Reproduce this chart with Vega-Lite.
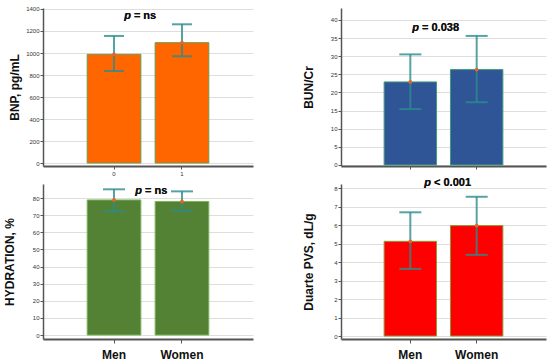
{
  "$schema": "https://vega.github.io/schema/vega-lite/v6.json",
  "background": "white",
  "padding": {"left": 3, "top": 5, "right": 2, "bottom": 2},
  "config": {
    "view": {"stroke": null},
    "font": "Liberation Sans",
    "axisY": {"grid": true, "gridColor": "#dedede", "gridWidth": 1, "domainColor": "#555", "domainWidth": 1.5, "tickColor": "#555", "tickSize": 3, "labelFontSize": 6, "labelPadding": 1, "labelColor": "#333", "labelOverlap": false, "labelFlush": false, "labelBound": false, "format": "d", "titleFontSize": 12, "titleFontWeight": "bold", "titleColor": "#111", "titlePadding": 0},
    "axisX": {"grid": false, "domainColor": "#555", "domainWidth": 2, "tickColor": "#555", "title": null, "labelAngle": 0, "labelOverlap": false}
  },
  "datasets": {
    "bnp": [
      {"sex": "Men", "mean": 988, "lo": 836, "hi": 1155},
      {"sex": "Women", "mean": 1094, "lo": 970, "hi": 1261}
    ],
    "bun": [
      {"sex": "Men", "mean": 22.9, "lo": 15.4, "hi": 30.5},
      {"sex": "Women", "mean": 26.3, "lo": 17.3, "hi": 35.6}
    ],
    "hyd": [
      {"sex": "Men", "mean": 78.9, "lo": 72.2, "hi": 85.1},
      {"sex": "Women", "mean": 78.0, "lo": 72.6, "hi": 83.9}
    ],
    "pvs": [
      {"sex": "Men", "mean": 5.12, "lo": 3.63, "hi": 6.69},
      {"sex": "Women", "mean": 5.97, "lo": 4.39, "hi": 7.53}
    ]
  },
  "columns": 2,
  "bounds": "flush",
  "align": "each",
  "spacing": {"row": 18, "column": 88},
  "concat": [
    {
      "width": 210, "height": 158,
      "data": {"name": "bnp"},
      "encoding": {
        "x": {"field": "sex", "type": "nominal", "sort": ["Men", "Women"], "scale": {"paddingInner": 0.21, "paddingOuter": 0.65, "align": 0.5},
          "axis": {"labelExpr": "datum.value == 'Men' ? '0' : '1'", "labelFontSize": 6, "labelColor": "#333", "tickSize": 3, "labelPadding": 1}}
      },
      "layer": [
        {"mark": {"type": "bar", "color": "#ff6600", "stroke": "#6f9a4a", "strokeWidth": 1},
          "encoding": {"y": {"field": "mean", "type": "quantitative", "scale": {"domain": [-27, 1409], "nice": false, "zero": false},
            "axis": {"values": [0, 200, 400, 600, 800, 1000, 1200, 1400], "title": "BNP, pg/mL", "minExtent": 22, "maxExtent": 22}},
            "y2": {"datum": 0}}},
        {"mark": {"type": "rule", "color": "#2a8c8c", "strokeWidth": 2, "opacity": 0.8}, "encoding": {"y": {"field": "lo", "type": "quantitative", "axis": {"values": [0, 200, 400, 600, 800, 1000, 1200, 1400], "title": "BNP, pg/mL", "minExtent": 22, "maxExtent": 22}}, "y2": {"field": "hi"}}},
        {"mark": {"type": "tick", "color": "#2a8c8c", "thickness": 2, "size": 20, "opacity": 0.8}, "encoding": {"y": {"field": "lo", "type": "quantitative", "axis": {"values": [0, 200, 400, 600, 800, 1000, 1200, 1400], "title": "BNP, pg/mL", "minExtent": 22, "maxExtent": 22}}}},
        {"mark": {"type": "tick", "color": "#2a8c8c", "thickness": 2, "size": 20, "opacity": 0.8}, "encoding": {"y": {"field": "hi", "type": "quantitative", "axis": {"values": [0, 200, 400, 600, 800, 1000, 1200, 1400], "title": "BNP, pg/mL", "minExtent": 22, "maxExtent": 22}}}},
        {"mark": {"type": "point", "filled": true, "color": "#e8642a", "size": 14, "opacity": 1}, "encoding": {"y": {"field": "mean", "type": "quantitative", "axis": {"values": [0, 200, 400, 600, 800, 1000, 1200, 1400], "title": "BNP, pg/mL", "minExtent": 22, "maxExtent": 22}}}},
        {"mark": {"type": "text", "text": "p", "fontStyle": "italic", "fontWeight": "bold", "fontSize": 11, "align": "right", "baseline": "middle", "color": "#111"},
          "encoding": {"x": {"datum": "Men", "type": "nominal", "bandPosition": 0.816}, "y": {"datum": 1336, "type": "quantitative", "axis": {"values": [0, 200, 400, 600, 800, 1000, 1200, 1400], "title": "BNP, pg/mL", "minExtent": 22, "maxExtent": 22}}}},
        {"mark": {"type": "text", "text": "= ns", "fontWeight": "bold", "fontSize": 11, "align": "left", "baseline": "middle", "color": "#111"},
          "encoding": {"x": {"datum": "Men", "type": "nominal", "bandPosition": 0.87}, "y": {"datum": 1336, "type": "quantitative", "axis": {"values": [0, 200, 400, 600, 800, 1000, 1200, 1400], "title": "BNP, pg/mL", "minExtent": 22, "maxExtent": 22}}}}
      ]
    },
    {
      "width": 205, "height": 158,
      "data": {"name": "bun"},
      "encoding": {
        "x": {"field": "sex", "type": "nominal", "sort": ["Men", "Women"], "scale": {"paddingInner": 0.21, "paddingOuter": 0.65, "align": 0.5},
          "axis": {"labels": false, "tickSize": 3}}
      },
      "layer": [
        {"mark": {"type": "bar", "color": "#2f5597", "stroke": "#3f9a7a", "strokeWidth": 1},
          "encoding": {"y": {"field": "mean", "type": "quantitative", "scale": {"domain": [-0.3, 43.3], "nice": false, "zero": false},
            "axis": {"values": [0, 5, 10, 15, 20, 25, 30, 35, 40], "title": "BUN/Cr", "minExtent": 26, "maxExtent": 26}},
            "y2": {"datum": 0}}},
        {"mark": {"type": "rule", "color": "#2a8c8c", "strokeWidth": 2, "opacity": 0.8}, "encoding": {"y": {"field": "lo", "type": "quantitative", "axis": {"values": [0, 5, 10, 15, 20, 25, 30, 35, 40], "title": "BUN/Cr", "minExtent": 26, "maxExtent": 26}}, "y2": {"field": "hi"}}},
        {"mark": {"type": "tick", "color": "#2a8c8c", "thickness": 2, "size": 22, "opacity": 0.8}, "encoding": {"y": {"field": "lo", "type": "quantitative", "axis": {"values": [0, 5, 10, 15, 20, 25, 30, 35, 40], "title": "BUN/Cr", "minExtent": 26, "maxExtent": 26}}}},
        {"mark": {"type": "tick", "color": "#2a8c8c", "thickness": 2, "size": 22, "opacity": 0.8}, "encoding": {"y": {"field": "hi", "type": "quantitative", "axis": {"values": [0, 5, 10, 15, 20, 25, 30, 35, 40], "title": "BUN/Cr", "minExtent": 26, "maxExtent": 26}}}},
        {"mark": {"type": "point", "filled": true, "color": "#e8642a", "size": 14, "opacity": 1}, "encoding": {"y": {"field": "mean", "type": "quantitative", "axis": {"values": [0, 5, 10, 15, 20, 25, 30, 35, 40], "title": "BUN/Cr", "minExtent": 26, "maxExtent": 26}}}},
        {"mark": {"type": "text", "text": "p", "fontStyle": "italic", "fontWeight": "bold", "fontSize": 11, "align": "right", "baseline": "middle", "color": "#111"},
          "encoding": {"x": {"datum": "Men", "type": "nominal", "bandPosition": 0.666}, "y": {"datum": 37.8, "type": "quantitative", "axis": {"values": [0, 5, 10, 15, 20, 25, 30, 35, 40], "title": "BUN/Cr", "minExtent": 26, "maxExtent": 26}}}},
        {"mark": {"type": "text", "text": "= 0.038", "fontWeight": "bold", "fontSize": 11, "align": "left", "baseline": "middle", "color": "#111"},
          "encoding": {"x": {"datum": "Men", "type": "nominal", "bandPosition": 0.723}, "y": {"datum": 37.8, "type": "quantitative", "axis": {"values": [0, 5, 10, 15, 20, 25, 30, 35, 40], "title": "BUN/Cr", "minExtent": 26, "maxExtent": 26}}}}
      ]
    },
    {
      "width": 210, "height": 155,
      "data": {"name": "hyd"},
      "encoding": {
        "x": {"field": "sex", "type": "nominal", "sort": ["Men", "Women"], "scale": {"paddingInner": 0.21, "paddingOuter": 0.65, "align": 0.5},
          "axis": {"labelFontSize": 12, "labelFontWeight": "bold", "labelColor": "#111", "tickSize": 4, "labelPadding": 6}}
      },
      "layer": [
        {"mark": {"type": "bar", "color": "#548235", "stroke": "#7ab55a", "strokeWidth": 1},
          "encoding": {"y": {"field": "mean", "type": "quantitative", "scale": {"domain": [-2.3, 88.2], "nice": false, "zero": false},
            "axis": {"values": [0, 10, 20, 30, 40, 50, 60, 70, 80], "title": "HYDRATION, %", "minExtent": 27, "maxExtent": 27}},
            "y2": {"datum": 0}}},
        {"mark": {"type": "rule", "color": "#2a8c8c", "strokeWidth": 2, "opacity": 0.8}, "encoding": {"y": {"field": "lo", "type": "quantitative", "axis": {"values": [0, 10, 20, 30, 40, 50, 60, 70, 80], "title": "HYDRATION, %", "minExtent": 27, "maxExtent": 27}}, "y2": {"field": "hi"}}},
        {"mark": {"type": "tick", "color": "#2a8c8c", "thickness": 2, "size": 22, "opacity": 0.8}, "encoding": {"y": {"field": "lo", "type": "quantitative", "axis": {"values": [0, 10, 20, 30, 40, 50, 60, 70, 80], "title": "HYDRATION, %", "minExtent": 27, "maxExtent": 27}}}},
        {"mark": {"type": "tick", "color": "#2a8c8c", "thickness": 2, "size": 22, "opacity": 0.8}, "encoding": {"y": {"field": "hi", "type": "quantitative", "axis": {"values": [0, 10, 20, 30, 40, 50, 60, 70, 80], "title": "HYDRATION, %", "minExtent": 27, "maxExtent": 27}}}},
        {"mark": {"type": "point", "filled": true, "color": "#e8642a", "size": 14, "opacity": 1}, "encoding": {"y": {"field": "mean", "type": "quantitative", "axis": {"values": [0, 10, 20, 30, 40, 50, 60, 70, 80], "title": "HYDRATION, %", "minExtent": 27, "maxExtent": 27}}}},
        {"mark": {"type": "text", "text": "p", "fontStyle": "italic", "fontWeight": "bold", "fontSize": 11, "align": "right", "baseline": "middle", "color": "#111"},
          "encoding": {"x": {"datum": "Men", "type": "nominal", "bandPosition": 1.02}, "y": {"datum": 84.1, "type": "quantitative", "axis": {"values": [0, 10, 20, 30, 40, 50, 60, 70, 80], "title": "HYDRATION, %", "minExtent": 27, "maxExtent": 27}}}},
        {"mark": {"type": "text", "text": "= ns", "fontWeight": "bold", "fontSize": 11, "align": "left", "baseline": "middle", "color": "#111"},
          "encoding": {"x": {"datum": "Men", "type": "nominal", "bandPosition": 1.076}, "y": {"datum": 84.1, "type": "quantitative", "axis": {"values": [0, 10, 20, 30, 40, 50, 60, 70, 80], "title": "HYDRATION, %", "minExtent": 27, "maxExtent": 27}}}}
      ]
    },
    {
      "width": 205, "height": 155,
      "data": {"name": "pvs"},
      "encoding": {
        "x": {"field": "sex", "type": "nominal", "sort": ["Men", "Women"], "scale": {"paddingInner": 0.21, "paddingOuter": 0.65, "align": 0.5},
          "axis": {"labelFontSize": 12, "labelFontWeight": "bold", "labelColor": "#111", "tickSize": 4, "labelPadding": 6}}
      },
      "layer": [
        {"mark": {"type": "bar", "color": "#ff0000", "stroke": "#8a9a3a", "strokeWidth": 1},
          "encoding": {"y": {"field": "mean", "type": "quantitative", "scale": {"domain": [-0.16, 8.22], "nice": false, "zero": false},
            "axis": {"values": [0, 1, 2, 3, 4, 5, 6, 7, 8], "title": "Duarte PVS, dL/g", "minExtent": 26, "maxExtent": 26}},
            "y2": {"datum": 0}}},
        {"mark": {"type": "rule", "color": "#2a8c8c", "strokeWidth": 2, "opacity": 0.8}, "encoding": {"y": {"field": "lo", "type": "quantitative", "axis": {"values": [0, 1, 2, 3, 4, 5, 6, 7, 8], "title": "Duarte PVS, dL/g", "minExtent": 26, "maxExtent": 26}}, "y2": {"field": "hi"}}},
        {"mark": {"type": "tick", "color": "#2a8c8c", "thickness": 2, "size": 22, "opacity": 0.8}, "encoding": {"y": {"field": "lo", "type": "quantitative", "axis": {"values": [0, 1, 2, 3, 4, 5, 6, 7, 8], "title": "Duarte PVS, dL/g", "minExtent": 26, "maxExtent": 26}}}},
        {"mark": {"type": "tick", "color": "#2a8c8c", "thickness": 2, "size": 22, "opacity": 0.8}, "encoding": {"y": {"field": "hi", "type": "quantitative", "axis": {"values": [0, 1, 2, 3, 4, 5, 6, 7, 8], "title": "Duarte PVS, dL/g", "minExtent": 26, "maxExtent": 26}}}},
        {"mark": {"type": "point", "filled": true, "color": "#e8642a", "size": 14, "opacity": 1}, "encoding": {"y": {"field": "mean", "type": "quantitative", "axis": {"values": [0, 1, 2, 3, 4, 5, 6, 7, 8], "title": "Duarte PVS, dL/g", "minExtent": 26, "maxExtent": 26}}}},
        {"mark": {"type": "text", "text": "p", "fontStyle": "italic", "fontWeight": "bold", "fontSize": 11, "align": "right", "baseline": "middle", "color": "#111"},
          "encoding": {"x": {"datum": "Men", "type": "nominal", "bandPosition": 0.895}, "y": {"datum": 8.27, "type": "quantitative", "axis": {"values": [0, 1, 2, 3, 4, 5, 6, 7, 8], "title": "Duarte PVS, dL/g", "minExtent": 26, "maxExtent": 26}}}},
        {"mark": {"type": "text", "text": "< 0.001", "fontWeight": "bold", "fontSize": 11, "align": "left", "baseline": "middle", "color": "#111"},
          "encoding": {"x": {"datum": "Men", "type": "nominal", "bandPosition": 0.952}, "y": {"datum": 8.27, "type": "quantitative", "axis": {"values": [0, 1, 2, 3, 4, 5, 6, 7, 8], "title": "Duarte PVS, dL/g", "minExtent": 26, "maxExtent": 26}}}}
      ]
    }
  ]
}
